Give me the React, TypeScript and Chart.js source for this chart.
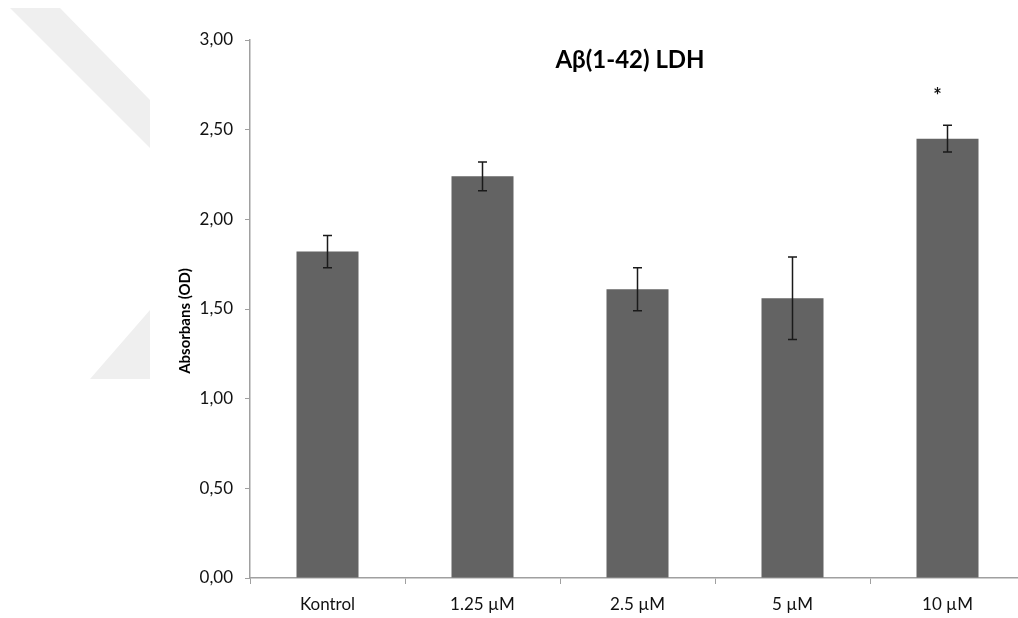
import React, { useEffect, useRef } from "react";
import { Chart, registerables } from "chart.js";

Chart.register(...registerables);

// LDH absorbance after Aβ(1-42) treatment
const categories = ["Kontrol", "1.25 µM", "2.5 µM", "5 µM", "10 µM"];
const absorbance = [1.82, 2.24, 1.61, 1.56, 2.45];
const errors = [0.09, 0.08, 0.12, 0.23, 0.075];
const significance = ["", "", "", "", "*"];
const yTicks = [0, 0.5, 1, 1.5, 2, 2.5, 3];

const FONT = "Lato, 'Open Sans', sans-serif";

// light background emblem in the upper-left corner
const emblemPlugin = {
  id: "emblem",
  beforeDraw(chart: any) {
    const ctx = chart.ctx;
    ctx.save();
    ctx.fillStyle = "#efefef";
    ctx.beginPath();
    ctx.moveTo(10, 8);
    ctx.lineTo(60, 8);
    ctx.lineTo(150, 100);
    ctx.lineTo(150, 148);
    ctx.closePath();
    ctx.fill();
    ctx.beginPath();
    ctx.moveTo(150, 310);
    ctx.lineTo(150, 379);
    ctx.lineTo(90, 379);
    ctx.closePath();
    ctx.fill();
    ctx.restore();
  },
};

// error bars, significance marks, axis title and the chart heading
const overlayPlugin = {
  id: "overlay",
  afterDatasetsDraw(chart: any) {
    const ctx = chart.ctx;
    const y = chart.scales.y;
    const meta = chart.getDatasetMeta(0);
    ctx.save();
    ctx.strokeStyle = "#1a1a1a";
    ctx.lineWidth = 1.5;
    meta.data.forEach((bar: any, i: number) => {
      const top = y.getPixelForValue(absorbance[i] + errors[i]);
      const bottom = y.getPixelForValue(absorbance[i] - errors[i]);
      const x = bar.x;
      ctx.beginPath();
      ctx.moveTo(x, top);
      ctx.lineTo(x, bottom);
      ctx.moveTo(x - 4.5, top);
      ctx.lineTo(x + 4.5, top);
      ctx.moveTo(x - 4.5, bottom);
      ctx.lineTo(x + 4.5, bottom);
      ctx.stroke();
      if (significance[i]) {
        ctx.fillStyle = "#111";
        ctx.font = `bold 20px ${FONT}`;
        ctx.textAlign = "center";
        ctx.textBaseline = "middle";
        ctx.fillText(significance[i], x - 10, top - 29);
      }
    });

    ctx.fillStyle = "#000";
    ctx.font = `bold 24px ${FONT}`;
    ctx.textAlign = "center";
    ctx.textBaseline = "middle";
    ctx.fillText("Aβ(1-42) LDH", 630, 60);

    ctx.translate(185, 321);
    ctx.rotate(-Math.PI / 2);
    ctx.font = `bold 15px ${FONT}`;
    ctx.fillText("Absorbans (OD)", 0, 0);
    ctx.restore();
  },
};

export default function App() {
  const canvasRef = useRef<HTMLCanvasElement | null>(null);

  useEffect(() => {
    if (!canvasRef.current) return;
    const chart = new Chart(canvasRef.current, {
      type: "bar",
      data: {
        labels: categories,
        datasets: [
          {
            data: absorbance,
            backgroundColor: "#636363",
            categoryPercentage: 1,
            barPercentage: 0.4,
          },
        ],
      },
      options: {
        animation: false,
        responsive: true,
        maintainAspectRatio: false,
        layout: { padding: { left: 170, right: 15, top: 40, bottom: 0 } },
        plugins: {
          legend: { display: false },
          tooltip: { enabled: false },
          title: { display: false },
        },
        scales: {
          x: {
            grid: {
              display: true,
              drawOnChartArea: false,
              drawTicks: true,
              tickLength: 6,
              color: "#a0a0a0",
              offset: true,
            },
            border: { color: "#a0a0a0", width: 1.5 },
            ticks: {
              color: "#111",
              font: { family: FONT, size: 17 },
              padding: 10,
              maxRotation: 0,
            },
            afterFit(scale: any) {
              scale.height = 40;
            },
          },
          y: {
            min: 0,
            max: 3,
            afterBuildTicks(scale: any) {
              scale.ticks = yTicks.map((v) => ({ value: v }));
            },
            grid: {
              display: true,
              drawOnChartArea: false,
              drawTicks: true,
              tickLength: 5,
              color: "#a0a0a0",
            },
            border: { color: "#a0a0a0", width: 1.5 },
            ticks: {
              color: "#111",
              font: { family: FONT, size: 17 },
              padding: 12,
              callback: (v: any) => Number(v).toFixed(2).replace(".", ","),
            },
            afterFit(scale: any) {
              scale.width = 80;
            },
          },
        },
      },
      plugins: [emblemPlugin, overlayPlugin],
    });
    return () => chart.destroy();
  }, []);

  return (
    <div
      style={{
        position: "absolute",
        left: 0,
        top: 0,
        width: 1018,
        height: 618,
        overflow: "hidden",
        background: "#fff",
      }}
    >
      <div style={{ position: "relative", width: 1040, height: 618 }}>
        <canvas ref={canvasRef} />
      </div>
    </div>
  );
}
